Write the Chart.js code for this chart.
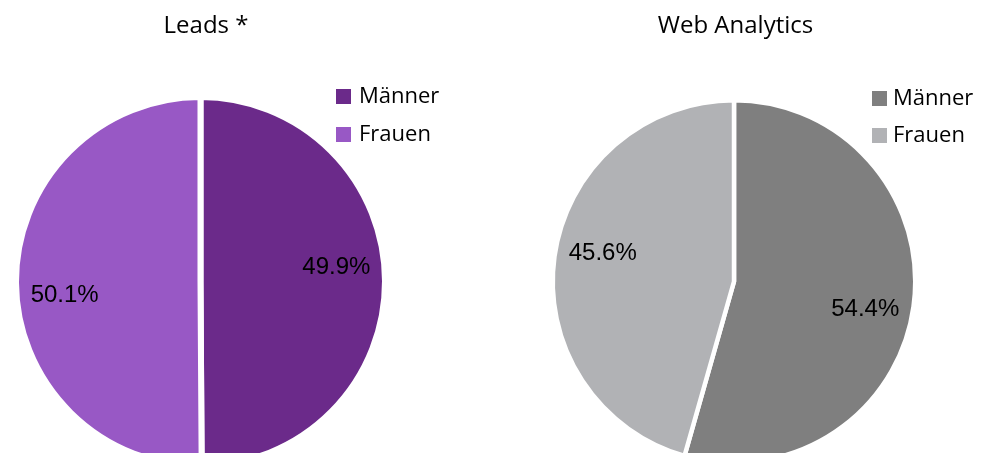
<!DOCTYPE html>
<html>
<head>
<meta charset="utf-8">
<script src="https://cdn.jsdelivr.net/npm/chart.js@4.4.1/dist/chart.umd.min.js"></script>
<style>
	html, body { margin: 0; padding: 0; background: #fff; overflow: hidden; width: 996px; height: 453px; }
	canvas { position: absolute; top: 0; }
	#leads { left: 0; }
	#web { left: 498px; }
</style>
</head>
<body>
<canvas id="leads" width="498" height="480"></canvas>
<canvas id="web" width="498" height="480"></canvas>
<script>
/* Data */
var genderLabels = ['Männer', 'Frauen'];
var leadsValues = [49.9, 50.1];
var webValues = [54.4, 45.6];
var leadsColors = ['#6b2a8a', '#9858c5'];
var webColors = ['#7f7f7f', '#b1b2b5'];

/* Plugin: percentage labels inside the slices */
var sliceLabels = {
	id: 'sliceLabels',
	afterDatasetsDraw: function(chart, args, opts) {
		var ctx = chart.ctx;
		var meta = chart.getDatasetMeta(0);
		var values = chart.data.datasets[0].data;
		var shift = (opts.angle || 0) * Math.PI / 180;
		ctx.save();
		ctx.font = '24px "Liberation Sans", Arial, sans-serif';
		ctx.fillStyle = '#000';
		ctx.textAlign = 'center';
		ctx.textBaseline = 'middle';
		meta.data.forEach(function(arc, i) {
			var mid = (arc.startAngle + arc.endAngle) / 2 + shift;
			var r = arc.outerRadius * 0.74;
			ctx.fillText(values[i].toFixed(1) + '%', arc.x + Math.cos(mid) * r, arc.y + Math.sin(mid) * r);
		});
		ctx.restore();
	}
};

/* Plugin: title + legend drawn at fixed spots */
var titleLegend = {
	id: 'titleLegend',
	afterDraw: function(chart, args, opts) {
		var ctx = chart.ctx;
		var ds = chart.data.datasets[0];
		ctx.save();
		ctx.fillStyle = '#000';
		ctx.textAlign = 'center';
		ctx.textBaseline = 'alphabetic';
		ctx.font = '24px "Open Sans", "Noto Sans", sans-serif';
		ctx.fillText(opts.title, opts.titleX, 33);

		ctx.textAlign = 'left';
		ctx.font = '22px "Open Sans", "Noto Sans", sans-serif';
		chart.data.labels.forEach(function(lbl, i) {
			var base = opts.legendY[i];
			ctx.fillStyle = ds.backgroundColor[i];
			ctx.fillRect(opts.boxX, base - 14, 15, 15);
			ctx.fillStyle = '#000';
			ctx.fillText(lbl, opts.textX, base);
		});
		ctx.restore();
	}
};

function makePie(id, values, colors, border, pad, labelAngle, legendOpts) {
	var canvas = document.getElementById(id);
	return new Chart(canvas, {
		type: 'pie',
		data: {
			labels: genderLabels,
			datasets: [{
				data: values,
				backgroundColor: colors,
				borderColor: '#ffffff',
				borderWidth: border
			}]
		},
		options: {
			responsive: false,
			animation: false,
			devicePixelRatio: 1,
			layout: { padding: pad },
			plugins: {
				legend: { display: false },
				tooltip: { enabled: false },
				sliceLabels: { angle: labelAngle },
				titleLegend: legendOpts
			}
		},
		plugins: [sliceLabels, titleLegend]
	});
}

makePie('leads', leadsValues, leadsColors, 6,
	{ left: 13, top: 94, right: 110, bottom: 11 }, -5.7,
	{ title: 'Leads *', titleX: 206, boxX: 336, textX: 359, legendY: [103, 141] });

makePie('web', webValues, webColors, 4.5,
	{ left: 52.5, top: 98, right: 78.5, bottom: 15 }, 4,
	{ title: 'Web Analytics', titleX: 237.5, boxX: 374, textX: 395, legendY: [105, 142] });
</script>
</body>
</html>
